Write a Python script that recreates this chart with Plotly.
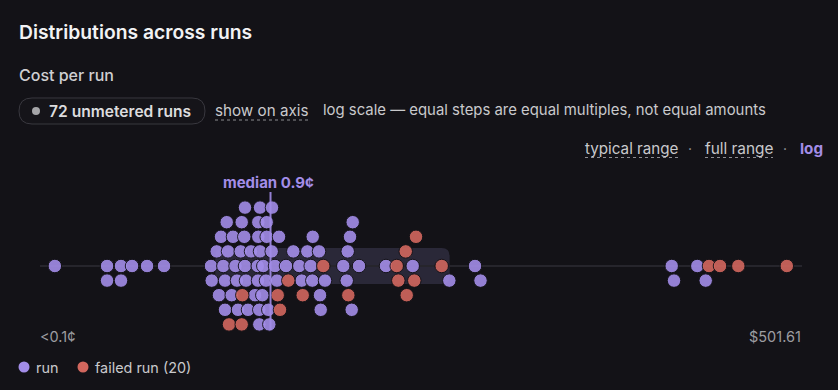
import numpy as np
import plotly.graph_objects as go

# ---------------- data (cost per run, in cents) ----------------
run_cents = [
    0.0098, 0.0295, 0.0295, 0.0396, 0.0396, 0.0500, 0.0686, 0.0982,
    0.2646, 0.2686, 0.2985, 0.3132, 0.3268, 0.3432, 0.3557, 0.3557, 0.3686, 0.3788,
    0.4095, 0.4209, 0.4437, 0.4580, 0.4678, 0.4952, 0.5058, 0.5343, 0.5423, 0.5423,
    0.5539, 0.5777, 0.6155, 0.6698, 0.7089, 0.7136, 0.7181, 0.7181, 0.7335, 0.7335,
    0.7444, 0.7444, 0.7813, 0.7980, 0.8448, 0.8573, 0.8573, 0.8868, 0.9057, 0.9528,
    0.9588, 1.0215, 1.0656, 1.1115, 1.2888, 1.503, 1.706, 1.795, 2.020, 2.170,
    2.245, 2.264, 2.586, 2.641, 2.680, 2.935, 4.317, 4.640, 4.739, 4.974,
    5.155, 5.266, 6.014, 10.63, 18.68, 40.46, 69.58, 78.14,
    4419.0, 4640.0, 7587.0, 9058.0,
]
failed_cents = [
    0.3869, 0.5058, 0.5123, 1.0813, 1.1351, 1.3527, 1.833, 2.831, 4.800,
    13.33, 13.79, 16.12, 16.46, 19.32, 20.03, 34.45,
    9710.0, 12250.0, 18030.0, 50161.0,
]
unmetered_runs = 72
axis_min_label = "<0.1¢"
axis_max_label = "$501.61"

# ---------------- layout constants ----------------
W, H = 838, 390
BG = "#131217"
PURPLE = "#a38de8"
RED = "#d2675e"
TEXT = "#c9c9cc"
DIM = "#9d9da1"
FONT = "Inter"

X_RANGE = [-2.5114, 5.1696]   # log10(cents) at the left / right edge
Y_RANGE = [-8.493, 18.219]    # swarm rows (row 0 = baseline)


def xpx(v):
    return (np.log10(v) - X_RANGE[0]) / (X_RANGE[1] - X_RANGE[0]) * W


def ypx(r):
    return (Y_RANGE[1] - r) / (Y_RANGE[1] - Y_RANGE[0]) * H


def P(x, y):
    return x / W, 1 - y / H


def swarm(px, gap=10.5, max_row=4):
    order = np.argsort(px, kind="stable")
    cand = [0]
    for k in range(1, max_row + 1):
        cand += [-k, k]
    lanes = {r: [] for r in cand}
    rows = np.zeros(len(px))
    for i in order:
        x = px[i]
        best = None
        best_d, best_r = -1.0, 0
        for r in cand:
            d = min((abs(x - q) for q in lanes[r]), default=1e9)
            if d >= gap:
                best = r
                break
            if d > best_d + 1e-9:
                best_d, best_r = d, r
        if best is None:
            best = best_r
        lanes[best].append(x)
        rows[i] = best
    return rows


all_vals = np.array(run_cents + failed_cents)
is_failed = np.array([False] * len(run_cents) + [True] * len(failed_cents))
rows = swarm(xpx(all_vals))
median = float(np.median(all_vals))
p10, p90 = np.percentile(all_vals, [10, 90])


def rrect(x0, y0, x1, y1, r):
    def p(x, y):
        a, b = P(x, y)
        return f"{a:.5f},{b:.5f}"
    return (f"M {p(x0 + r, y0)} L {p(x1 - r, y0)} Q {p(x1, y0)} {p(x1, y0 + r)} "
            f"L {p(x1, y1 - r)} Q {p(x1, y1)} {p(x1 - r, y1)} L {p(x0 + r, y1)} "
            f"Q {p(x0, y1)} {p(x0, y1 - r)} L {p(x0, y0 + r)} Q {p(x0, y0)} {p(x0 + r, y0)} Z")


fig = go.Figure()

# dots
for flag, col, name in [(False, PURPLE, "run"), (True, RED, "failed run")]:
    m = is_failed == flag
    fig.add_trace(go.Scatter(
        x=all_vals[m], y=rows[m], mode="markers", name=name,
        marker=dict(size=13.5, color=col, opacity=0.9, line=dict(width=1, color=BG)),
        hoverinfo="x", showlegend=False,
    ))

# median line
fig.add_trace(go.Scatter(
    x=[median, median], y=[5.07, -4.4], mode="lines",
    line=dict(color=PURPLE, width=2), opacity=0.9, showlegend=False, hoverinfo="skip",
))

shapes = []
# typical-range band (p10 - p90)
bx0, bx1 = xpx(p10), xpx(p90)
shapes.append(dict(type="path", xref="paper", yref="paper", layer="below",
                   path=rrect(bx0 - 1, ypx(1.23), bx1 - 3, ypx(-1.23), 8),
                   fillcolor="#2a2838", line=dict(width=0)))
# baseline
shapes.append(dict(type="line", xref="paper", yref="y", layer="below",
                   x0=40 / W, x1=802 / W, y0=0, y1=0,
                   line=dict(color="#26252c", width=2)))
# pill
shapes.append(dict(type="path", xref="paper", yref="paper",
                   path=rrect(19, 98, 205, 124, 13),
                   fillcolor="#151419", line=dict(color="#39383f", width=1)))
shapes.append(dict(type="circle", xref="paper", yref="paper",
                   x0=(36 - 4) / W, x1=(36 + 4) / W, y0=1 - 115 / H, y1=1 - 107 / H,
                   fillcolor="#a5a5a8", line=dict(width=0)))
# dotted underlines
for x0, x1, y in [(215, 309, 120), (585, 679, 157.5), (705, 773, 157.5)]:
    shapes.append(dict(type="line", xref="paper", yref="paper",
                       x0=x0 / W, x1=x1 / W, y0=1 - y / H, y1=1 - y / H,
                       line=dict(color="#8d8d92", width=1, dash="dot")))
# legend dots
for x, col in [(24, PURPLE), (83, RED)]:
    shapes.append(dict(type="circle", xref="paper", yref="paper",
                       x0=(x - 5.5) / W, x1=(x + 5.5) / W,
                       y0=1 - (367 + 5.5) / H, y1=1 - (367 - 5.5) / H,
                       fillcolor=col, line=dict(width=0)))

anns = []


def text(x, y, s, size=14, color=TEXT, weight=400, anchor="left"):
    a, b = P(x, y)
    anns.append(dict(x=a, y=b, xref="paper", yref="paper", text=s, showarrow=False,
                     xanchor=anchor, yanchor="middle",
                     font=dict(family=FONT, size=size, color=color, weight=weight)))


text(17, 32, "Distributions across runs", 19.3, "#f2f2f4", 600)
text(17, 75, "Cost per run", 16, "#cfcfd2", 500)
text(47, 111, f"{unmetered_runs} unmetered runs", 15.6, "#dcdcde", 600)
text(213, 110, "show on axis", 15.2, TEXT)
text(321, 110, "log scale — equal steps are equal multiples, not equal amounts", 14.9, TEXT)
text(583, 148, "typical range", 15.2, TEXT)
text(690, 148, "·", 14, DIM, anchor="center")
text(703, 148, "full range", 15.4, TEXT)
text(785, 148, "·", 14, DIM, anchor="center")
text(798, 148, "log", 15.2, PURPLE, 700)
text(268, 182, f"median {median:.1f}¢", 15, PURPLE, 700, anchor="center")
text(38, 336, axis_min_label, 14.5, DIM)
text(803, 336, axis_max_label, 14.5, DIM, anchor="right")
text(34, 367, "run", 14.4, TEXT)
text(93, 367, f"failed run ({len(failed_cents)})", 14.4, TEXT)

fig.update_layout(
    width=W, height=H, margin=dict(l=0, r=0, t=0, b=0),
    paper_bgcolor=BG, plot_bgcolor=BG,
    xaxis=dict(type="log", range=X_RANGE, visible=False, fixedrange=True),
    yaxis=dict(range=Y_RANGE, visible=False, fixedrange=True),
    shapes=shapes, annotations=anns, showlegend=False,
)

fig.write_html("out.html")
